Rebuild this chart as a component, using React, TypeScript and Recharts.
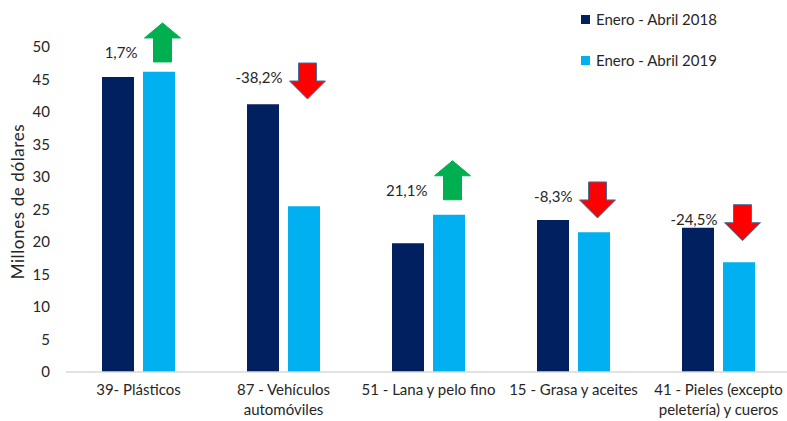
import { Bar, ComposedChart, Legend, Scatter, XAxis, YAxis } from 'recharts'

const categories = [
  '39- Plásticos',
  '87 - Vehículos\nautomóviles',
  '51 - Lana y pelo fino',
  '15 - Grasa y aceites',
  '41 - Pieles (excepto\npeletería) y cueros',
]
const valores2018 = [45.4, 41.2, 19.8, 23.4, 22.2]
const valores2019 = [46.2, 25.5, 24.2, 21.5, 16.9]
const variacion = ['1,7%', '-38,2%', '21,1%', '-8,3%', '-24,5%']
// base of each arrow, in millones de dólares
const nivelFlecha = [47.7, 42, 26.5, 23.7, 20.2]
const yTicks = [0, 5, 10, 15, 20, 25, 30, 35, 40, 45, 50]

const DARK = '#002060'
const LIGHT = '#00b0f0'
const TEXT = '#262626'
const FONT = 'Lato, "Open Sans", sans-serif'

const data = categories.map((name, i) => ({
  name,
  a2018: valores2018[i],
  a2019: valores2019[i],
  nivel: nivelFlecha[i],
  variacion: variacion[i],
}))

function CategoryTick({ x, y, payload }: any) {
  const lines = String(payload.value).split('\n')
  return (
    <g>
      {lines.map((l, i) => (
        <text key={i} x={x} y={y + 15 + i * 20} textAnchor="middle" fill={TEXT} fontSize={15} fontFamily={FONT}>
          {l}
        </text>
      ))}
    </g>
  )
}

function Arrow({ cx, cy, payload }: any) {
  const up = !String(payload.variacion).startsWith('-')
  const ax = cx + 24
  const b = cy
  const pts = up
    ? [[ax - 9, b], [ax + 9, b], [ax + 9, b - 24], [ax + 18, b - 24], [ax, b - 39], [ax - 18, b - 24], [ax - 9, b - 24]]
    : [[ax - 9, b - 36], [ax + 9, b - 36], [ax + 9, b - 18], [ax + 18, b - 18], [ax, b], [ax - 18, b - 18], [ax - 9, b - 18]]
  return (
    <g>
      <polygon
        points={pts.map((p) => p.join(',')).join(' ')}
        fill={up ? '#00b050' : '#ff0000'}
        stroke={up ? '#00b050' : '#41719c'}
        strokeWidth={1}
      />
      <text
        x={ax - 25}
        y={up ? b - 10 : b - 22}
        textAnchor="end"
        dominantBaseline="central"
        fill={TEXT}
        fontSize={15}
        fontFamily={FONT}
      >
        {payload.variacion}
      </text>
    </g>
  )
}

function renderLegend() {
  const items = [
    { label: 'Enero - Abril 2018', color: DARK },
    { label: 'Enero - Abril 2019', color: LIGHT },
  ]
  return (
    <div style={{ fontFamily: FONT, fontSize: 15, color: TEXT }}>
      {items.map((it) => (
        <div key={it.label} style={{ display: 'flex', alignItems: 'center', height: 20, marginBottom: 21 }}>
          <span style={{ width: 9, height: 9, background: it.color, marginRight: 6, display: 'inline-block' }} />
          {it.label}
        </div>
      ))}
    </div>
  )
}

export default function App() {
  return (
    <div style={{ position: 'absolute', left: 0, top: 0, width: 787, height: 421, overflow: 'hidden', background: '#fff' }}>
      <ComposedChart
        width={791}
        height={421}
        data={data}
        margin={{ top: 47, right: 0, bottom: 0, left: 0 }}
        barSize={32}
        barGap={9}
      >
        <XAxis
          dataKey="name"
          height={49}
          tick={<CategoryTick />}
          tickLine={false}
          axisLine={{ stroke: '#d9d9d9', strokeWidth: 1.5 }}
          interval={0}
        />
        <YAxis
          width={66}
          domain={[0, 50]}
          ticks={yTicks}
          axisLine={false}
          tickLine={false}
          tickMargin={10}
          tick={{ fill: TEXT, fontSize: 15, fontFamily: FONT }}
          label={{
            value: 'Millones de dólares',
            angle: -90,
            position: 'insideLeft',
            offset: 18,
            dy: -8,
            style: { textAnchor: 'middle', fill: TEXT, fontSize: 17, fontFamily: FONT, letterSpacing: 0.6 },
          }}
        />
        <Legend
          content={renderLegend}
          layout="horizontal"
          verticalAlign="middle"
          align="center"
          wrapperStyle={{ position: 'absolute', top: 9, left: 581, width: 200 }}
        />
        <Bar dataKey="a2018" fill={DARK} isAnimationActive={false} />
        <Bar dataKey="a2019" fill={LIGHT} isAnimationActive={false} />
        <Scatter dataKey="nivel" shape={<Arrow />} isAnimationActive={false} legendType="none" />
      </ComposedChart>
    </div>
  )
}
